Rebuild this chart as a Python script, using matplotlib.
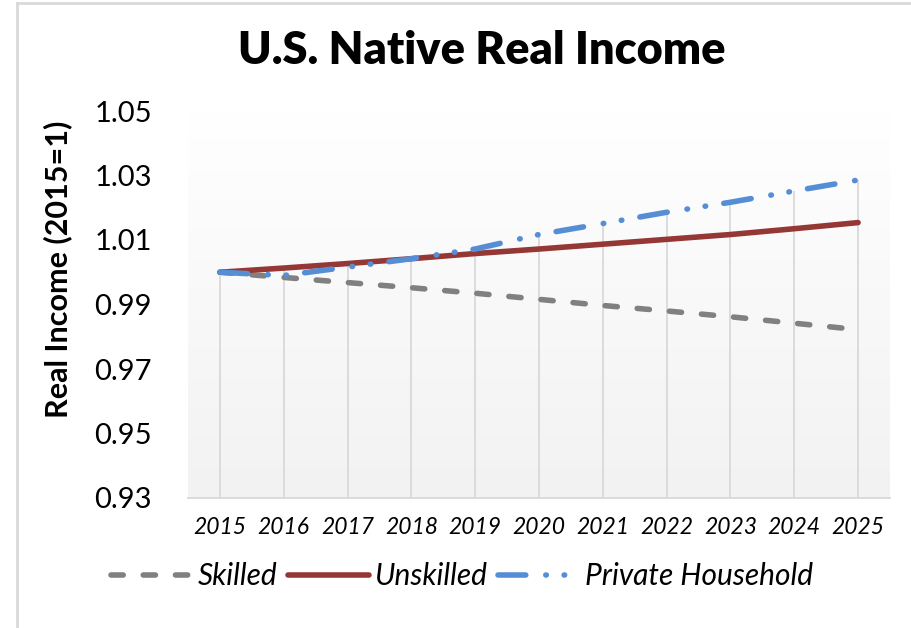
import matplotlib
matplotlib.use("Agg")
import matplotlib.pyplot as plt
import numpy as np

years = [2015, 2016, 2017, 2018, 2019, 2020, 2021, 2022, 2023, 2024, 2025]
skilled = [1.0, 0.9984, 0.9968, 0.9952, 0.9935, 0.9916, 0.9897, 0.9880, 0.9862, 0.9842, 0.9822]
unskilled = [1.0, 1.0013, 1.0027, 1.0042, 1.0058, 1.0072, 1.0087, 1.0102, 1.0117, 1.0135, 1.0154]
private_hh = [1.0, 0.9990, 1.0016, 1.0042, 1.0072, 1.0117, 1.0151, 1.0186, 1.0217, 1.0252, 1.0286]
y_ticks = [0.93, 0.95, 0.97, 0.99, 1.01, 1.03, 1.05]

plt.rcParams['font.family'] = ['Lato', 'DejaVu Sans']

fig = plt.figure(figsize=(9.12, 6.28), dpi=100)
ax = fig.add_axes([188/912, 130/628, 702/912, 387/628])

# gradient plot area
grad = np.linspace(1, 0, 256).reshape(-1, 1)
ax.imshow(grad, extent=[0, 1, 0, 1], transform=ax.transAxes, aspect='auto',
          cmap=matplotlib.colors.LinearSegmentedColormap.from_list('g', ['#f2f2f2', '#ffffff']),
          vmin=0, vmax=1, zorder=0)

# drop lines from highest point
tops = np.maximum.reduce([skilled, unskilled, private_hh])
ax.vlines(years, 0.93, tops, color='#d9d9d9', lw=1.3, zorder=1)

lw = 4.0
ax.plot(years, skilled, color='#808080', lw=lw, dashes=(2.2, 3.6),
        dash_capstyle='round', label='Skilled', zorder=3)
ax.plot(years, unskilled, color='#953735', lw=lw, solid_capstyle='round',
        label='Unskilled', zorder=3)
ax.plot(years, private_hh, color='#558ed5', lw=lw,
        dashes=(5.0, 3.6, 0.1, 3.2, 0.1, 3.3), dash_capstyle='round',
        label='Private Household', zorder=4)

ax.set_xlim(2014.5, 2025.5)
ax.set_ylim(0.93, 1.05)
ax.set_xticks(years)
ax.set_xticklabels([str(y) for y in years], fontsize=16.5, style='italic')
ax.set_yticks(y_ticks)
ax.set_yticklabels([f'{v:.2f}' for v in y_ticks], fontsize=21)
ax.tick_params(length=0, pad=14)
ax.tick_params(axis='y', pad=26)
for s in ['top', 'right', 'left']:
    ax.spines[s].set_visible(False)
ax.spines['bottom'].set_color('#d9d9d9')
ax.spines['bottom'].set_linewidth(1.3)

ax.set_ylabel('Real Income (2015=1)', fontsize=22, fontweight='bold')
ax.yaxis.set_label_coords((72 - 188) / 702, (498 - 269) / 387)

fig.text(482/912, 1 - 50/628, 'U.S. Native Real Income', ha='center', va='center',
         fontsize=32.5, fontweight='heavy')

leg = fig.legend(loc='center', bbox_to_anchor=(462/912, 1 - 576/628), ncol=3,
                 frameon=False, handlelength=2.7, handletextpad=0.2, columnspacing=0.35,
                 prop={'size': 21.5, 'style': 'italic'})

# chart border (left and top)
fig.add_artist(plt.Line2D([17/912, 17/912], [0, 1 - 3/628], color='#d9d9d9', lw=2))
fig.add_artist(plt.Line2D([17/912, 1], [1 - 3/628, 1 - 3/628], color='#d9d9d9', lw=2))

fig.savefig('out.png', dpi=100)
